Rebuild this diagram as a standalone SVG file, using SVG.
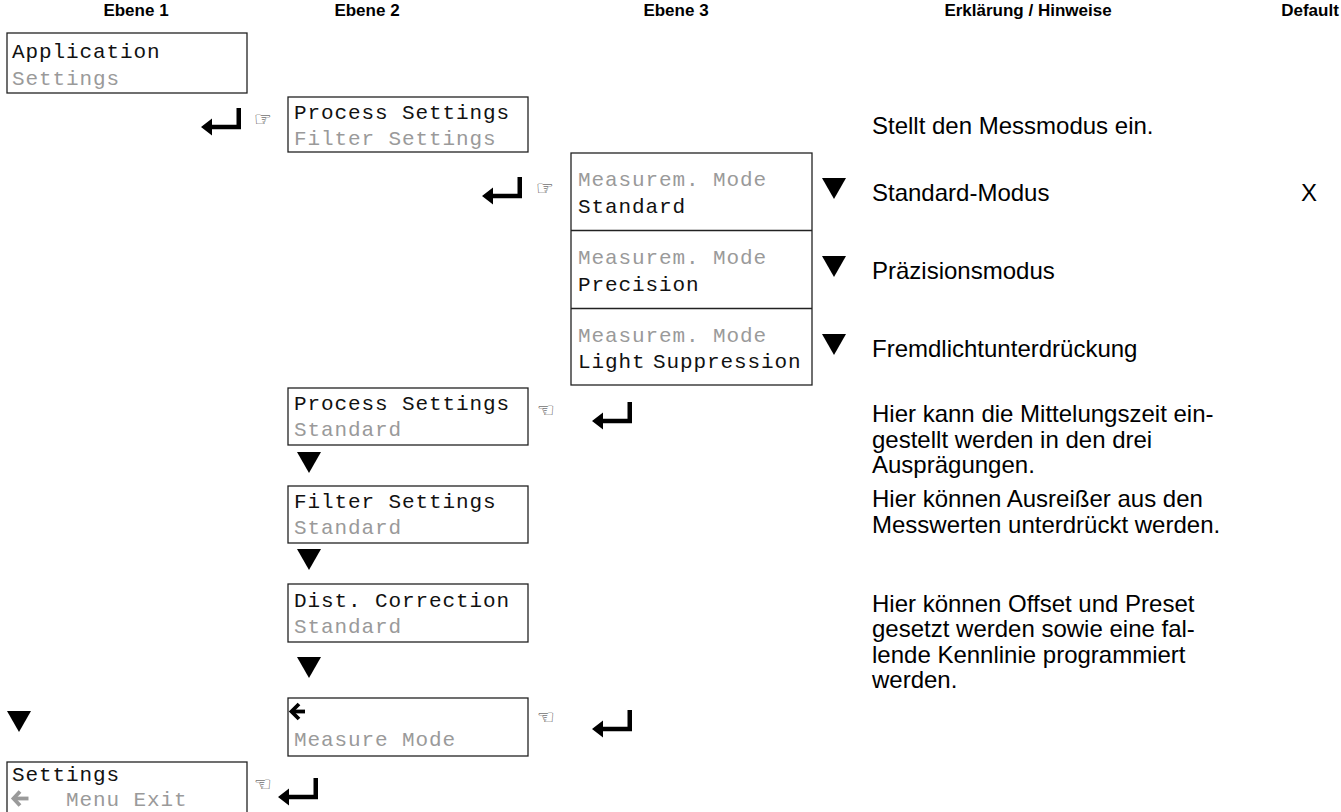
<svg xmlns="http://www.w3.org/2000/svg" xmlns:xlink="http://www.w3.org/1999/xlink" width="1341" height="812" viewBox="0 0 1341 812">
<style>
  .hdr { font-family: "Liberation Sans", Arial, sans-serif; font-size: 17px; font-weight: bold; fill: #000; text-anchor: middle; }
  .body { font-family: "Liberation Sans", Arial, sans-serif; font-size: 24px; fill: #000; }
  .mono { font-family: "Liberation Mono", "Courier New", monospace; font-size: 21px; letter-spacing: 0.9px; fill: #111; }
  .gray { fill: #9a9a9a; }
  .box { fill: #fff; stroke: #222; stroke-width: 1.3; }
  .hand { font-family: "DejaVu Sans", sans-serif; font-size: 20px; fill: #333; text-anchor: middle; }
</style>
<defs>
  <path id="ret" d="M0,0 L11,-8.5 L11,-2.2 L35.5,-2.2 L35.5,-19 L40,-19 L40,2.2 L11,2.2 L11,8.5 Z"/>
  <path id="tri" d="M0,0 L24,0 L12,21 Z"/>
</defs>

<g id="headers">
  <text class="hdr" x="136" y="16">Ebene 1</text>
  <text class="hdr" x="367" y="16">Ebene 2</text>
  <text class="hdr" x="676" y="16">Ebene 3</text>
  <text class="hdr" x="1028" y="16">Erklärung / Hinweise</text>
  <text class="hdr" x="1310" y="16">Default</text>
</g>

<g id="node-application-settings">
  <rect class="box" x="7" y="33" width="240" height="60"/>
  <text class="mono" x="12" y="58">Application</text>
  <text class="mono gray" x="12" y="85">Settings</text>
</g>

<g id="node-process-filter">
  <rect class="box" x="288" y="97" width="240" height="55"/>
  <text class="mono" x="294" y="119">Process Settings</text>
  <text class="mono gray" x="294" y="145">Filter Settings</text>
</g>

<g id="node-measurem-mode">
  <rect class="box" x="571" y="153" width="241" height="232"/>
  <line x1="571" y1="230.5" x2="812" y2="230.5" stroke="#222" stroke-width="1.3"/>
  <line x1="571" y1="308.5" x2="812" y2="308.5" stroke="#222" stroke-width="1.3"/>
  <text class="mono gray" x="578" y="186">Measurem. Mode</text>
  <text class="mono" x="578" y="213">Standard</text>
  <text class="mono gray" x="578" y="264">Measurem. Mode</text>
  <text class="mono" x="578" y="291">Precision</text>
  <text class="mono gray" x="578" y="342">Measurem. Mode</text>
  <text class="mono" x="578" y="368">Light <tspan dx="-6">Suppression</tspan></text>
</g>

<g id="node-process-standard">
  <rect class="box" x="288" y="388" width="240" height="57"/>
  <text class="mono" x="294" y="410">Process Settings</text>
  <text class="mono gray" x="294" y="436">Standard</text>
</g>

<g id="node-filter-standard">
  <rect class="box" x="288" y="486" width="240" height="57"/>
  <text class="mono" x="294" y="508">Filter Settings</text>
  <text class="mono gray" x="294" y="534">Standard</text>
</g>

<g id="node-dist-standard">
  <rect class="box" x="288" y="584" width="240" height="58"/>
  <text class="mono" x="294" y="607">Dist. Correction</text>
  <text class="mono gray" x="294" y="633">Standard</text>
</g>

<g id="node-back-measure-mode">
  <rect class="box" x="288" y="698" width="240" height="58"/>
  <g stroke="#000" stroke-width="3.8" fill="none" stroke-linejoin="miter">
    <path d="M299,704 L291.5,711.5 L299,719"/>
    <line x1="292" y1="711.5" x2="305" y2="711.5"/>
  </g>
  <text class="mono gray" x="294" y="746">Measure Mode</text>
</g>

<g id="node-settings-exit">
  <rect class="box" x="7" y="762" width="240" height="60"/>
  <text class="mono" x="12" y="781">Settings</text>
  <g stroke="#9a9a9a" stroke-width="3.8" fill="none" stroke-linejoin="miter">
    <path d="M20,791.5 L13.5,798.5 L20,805.5"/>
    <line x1="14" y1="798.5" x2="28.5" y2="798.5"/>
  </g>
  <text class="mono gray" x="66" y="806">Menu Exit</text>
</g>

<g id="connectors">
  <use xlink:href="#ret" x="201" y="127"/>
  <text class="hand" x="263" y="126">☞</text>
  <use xlink:href="#ret" x="482" y="196"/>
  <text class="hand" x="545" y="195">☞</text>
  <use xlink:href="#ret" x="592" y="421"/>
  <text class="hand" x="546" y="417">☜</text>
  <use xlink:href="#ret" x="592" y="729"/>
  <text class="hand" x="546" y="724">☜</text>
  <use xlink:href="#ret" x="278" y="797"/>
  <text class="hand" x="263" y="791">☜</text>

  <use xlink:href="#tri" x="822" y="178"/>
  <use xlink:href="#tri" x="822" y="256"/>
  <use xlink:href="#tri" x="822" y="334"/>
  <use xlink:href="#tri" x="297" y="452"/>
  <use xlink:href="#tri" x="297" y="549"/>
  <use xlink:href="#tri" x="297" y="657"/>
  <use xlink:href="#tri" x="7" y="711"/>
</g>

<g id="explanations">
  <text class="body" x="872" y="134">Stellt den Messmodus ein.</text>
  <text class="body" x="872" y="201">Standard-Modus</text>
  <text class="body" x="1309" y="201" text-anchor="middle">X</text>
  <text class="body" x="872" y="279">Präzisionsmodus</text>
  <text class="body" x="872" y="357">Fremdlichtunterdrückung</text>
  <text class="body" x="872" y="422">Hier kann die Mittelungszeit ein-</text>
  <text class="body" x="872" y="448">gestellt werden in den drei</text>
  <text class="body" x="872" y="473">Ausprägungen.</text>
  <text class="body" x="872" y="507">Hier können Ausreißer aus den</text>
  <text class="body" x="872" y="533">Messwerten unterdrückt werden.</text>
  <text class="body" x="872" y="612">Hier können Offset und Preset</text>
  <text class="body" x="872" y="637">gesetzt werden sowie eine fal-</text>
  <text class="body" x="872" y="663">lende Kennlinie programmiert</text>
  <text class="body" x="872" y="688">werden.</text>
</g>
</svg>
